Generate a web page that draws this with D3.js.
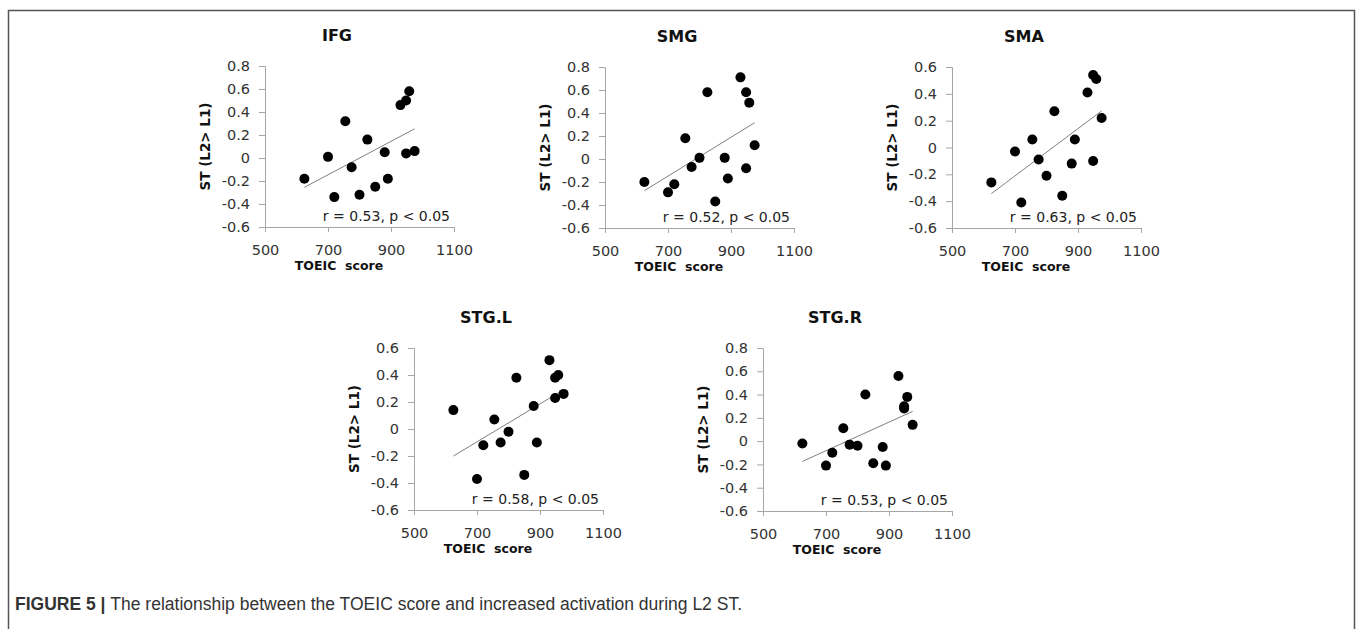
<!DOCTYPE html>
<html>
<head>
<meta charset="utf-8">
<script src="https://cdn.jsdelivr.net/npm/d3@7"></script>
<style>
  body { margin: 0; background: #fff; }
  svg { display: block; }
  .tick text { font-family: "DejaVu Sans", sans-serif; font-size: 14.5px; fill: #333; }
  .domain, .tick line { stroke: #a6a6a6; }
</style>
</head>
<body>
<div id="chart"></div>
<script>
// subject TOEIC scores (shared x for every panel)
var toeic = [625, 700, 720, 755, 775, 800, 825, 850, 880, 890, 930, 948, 958, 948, 975];

// ST (L2 > L1) values per region
var ifg  = [-0.18, 0.01, -0.34, 0.32, -0.08, -0.32, 0.16, -0.25, 0.05, -0.18, 0.46, 0.50, 0.58, 0.04, 0.06];
var smg  = [-0.20, -0.29, -0.22, 0.18, -0.07, 0.01, 0.58, -0.37, 0.01, -0.17, 0.71, 0.58, 0.49, -0.08, 0.12];
var sma  = [-0.26, -0.03, -0.41, 0.06, -0.09, -0.21, 0.27, -0.36, -0.12, 0.06, 0.41, 0.54, 0.51, -0.10, 0.22];
var stgL = [0.14, -0.37, -0.12, 0.07, -0.10, -0.02, 0.38, -0.34, 0.17, -0.10, 0.51, 0.38, 0.40, 0.23, 0.26];
var stgR = [-0.02, -0.21, -0.10, 0.11, -0.03, -0.04, 0.40, -0.19, -0.05, -0.21, 0.56, 0.28, 0.38, 0.30, 0.14];

var titles = ["IFG", "SMG", "SMA", "STG.L", "STG.R"];
var stats = ["r = 0.53, p < 0.05", "r = 0.52, p < 0.05", "r = 0.63, p < 0.05", "r = 0.58, p < 0.05", "r = 0.53, p < 0.05"];
var series = [ifg, smg, sma, stgL, stgR];
var yMax = [0.8, 0.8, 0.6, 0.6, 0.8];
var xTicks = [500, 700, 900, 1100];

// panel placement
var layout = [
    {x: 265, top: 66, bottom: 227},
    {x: 605, top: 67, bottom: 228},
    {x: 952, top: 67, bottom: 228},
    {x: 414, top: 348, bottom: 510},
    {x: 763, top: 348, bottom: 511}
];
var plotW = 189;

var svg = d3.select("#chart").append("svg")
    .attr("width", 1358)
    .attr("height", 629);

svg.append("rect")
    .attr("x", 8.5).attr("y", 10.5)
    .attr("width", 1346).attr("height", 700)
    .attr("fill", "none")
    .attr("stroke", "#555")
    .attr("stroke-width", 1.5);

function fit(xs, ys) {
    var mx = d3.mean(xs), my = d3.mean(ys);
    var num = d3.sum(xs, function (d, i) { return (d - mx) * (ys[i] - my); });
    var den = d3.sum(xs, function (d) { return (d - mx) * (d - mx); });
    var b = num / den;
    return function (x) { return my + b * (x - mx); };
}

// excel style labels: plain hyphen, "0" without decimals
var yFormat = function (d) { return d === 0 ? "0" : d3.format(".1f")(d).replace("\u2212", "-"); };

series.forEach(function (vals, k) {
    var L = layout[k];
    var x = d3.scaleLinear().domain([500, 1100]).range([L.x, L.x + plotW]);
    var y = d3.scaleLinear().domain([-0.6, yMax[k]]).range([L.bottom, L.top]);
    var g = svg.append("g").attr("class", "panel");

    var yTicks = d3.range(-0.6, yMax[k] + 0.01, 0.2).map(function (v) { return Math.round(v * 10) / 10; });

    g.append("g")
        .attr("transform", "translate(" + L.x + ",0)")
        .call(d3.axisLeft(y).tickValues(yTicks).tickSize(6).tickPadding(9).tickFormat(yFormat));

    g.append("g")
        .attr("transform", "translate(0," + L.bottom + ")")
        .call(d3.axisBottom(x).tickValues(xTicks).tickSize(5).tickPadding(13).tickFormat(d3.format("d")));

    // trend line
    var f = fit(toeic, vals);
    var x0 = d3.min(toeic), x1 = d3.max(toeic);
    g.append("line")
        .attr("x1", x(x0)).attr("y1", y(f(x0)))
        .attr("x2", x(x1)).attr("y2", y(f(x1)))
        .attr("stroke", "#808080")
        .attr("stroke-width", 1);

    g.selectAll("circle")
        .data(vals)
        .enter().append("circle")
        .attr("cx", function (d, i) { return x(toeic[i]); })
        .attr("cy", function (d) { return y(d); })
        .attr("r", 5)
        .attr("fill", "#000");

    g.append("text")
        .text(titles[k])
        .attr("x", L.x + 72)
        .attr("y", L.top - 25)
        .attr("text-anchor", "middle")
        .attr("font-family", "DejaVu Sans, sans-serif")
        .attr("font-weight", "bold")
        .attr("font-size", "16px")
        .attr("fill", "#111");

    g.append("text")
        .text(stats[k])
        .attr("x", L.x + plotW - 4)
        .attr("y", L.bottom - 6)
        .attr("text-anchor", "end")
        .attr("font-family", "DejaVu Sans, sans-serif")
        .attr("font-size", "14px")
        .attr("fill", "#222");

    g.append("text")
        .text("ST (L2> L1)")
        .attr("transform", "translate(" + (L.x - 55) + "," + ((L.top + L.bottom) / 2) + ") rotate(-90)")
        .attr("text-anchor", "middle")
        .attr("font-family", "DejaVu Sans, sans-serif")
        .attr("font-weight", "bold")
        .attr("font-size", "13.5px")
        .attr("fill", "#111");

    g.append("text")
        .text("TOEIC\u00a0 score")
        .attr("x", L.x + 74)
        .attr("y", L.bottom + 43)
        .attr("text-anchor", "middle")
        .attr("font-family", "DejaVu Sans, sans-serif")
        .attr("font-weight", "bold")
        .attr("font-size", "12.5px")
        .attr("fill", "#111");
});

var cap = svg.append("text")
    .attr("x", 15)
    .attr("y", 610)
    .attr("font-family", "Liberation Sans, Arial, sans-serif")
    .attr("font-size", "17.5px")
    .attr("fill", "#333");
cap.append("tspan").attr("font-weight", "bold").text("FIGURE 5 | ");
cap.append("tspan").text("The relationship between the TOEIC score and increased activation during L2 ST.");
</script>
</body>
</html>
